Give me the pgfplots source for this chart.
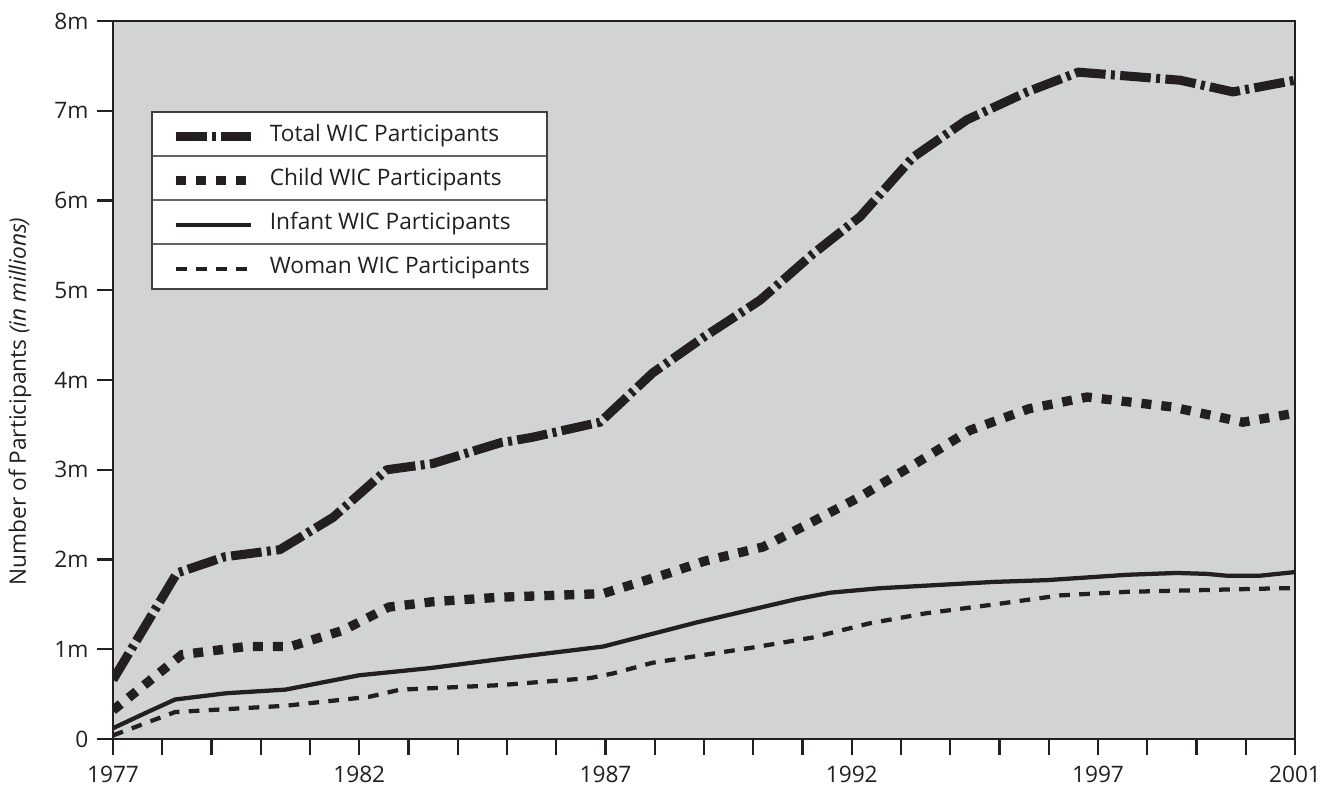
\documentclass[border=0pt]{standalone}
\usepackage{pgfplots}
\pgfplotsset{compat=1.18}
\usepackage{pgfplotstable}
\usepackage{fontspec}
\setmainfont{Open Sans}
\definecolor{bg}{RGB}{209,211,212}
\definecolor{ink}{RGB}{35,31,32}

\pgfplotstableread{
x y
1977 0.66
1978.3 1.85
1979.27 2.03
1980.39 2.11
1981.47 2.47
1982.56 3.00
1983.5 3.07
1984.86 3.30
1985.5 3.36
1986.89 3.53
1987.96 4.08
1989.0 4.48
1990.14 4.89
1991.2 5.40
1992.17 5.82
1993.24 6.48
1994.34 6.90
1995.56 7.21
1996.6 7.43
1998.67 7.34
1999.74 7.21
2001 7.34
}\total

\pgfplotstableread{
x y
1977 0.32
1978.4 0.94
1979.7 1.03
1980.6 1.03
1981.67 1.21
1982.6 1.47
1983.5 1.53
1984.86 1.58
1986.95 1.62
1987.3 1.68
1988.3 1.85
1989.0 1.98
1990.2 2.14
1991.2 2.42
1992.17 2.70
1993.3 3.07
1994.4 3.44
1995.6 3.68
1996.78 3.81
1998.5 3.70
1999.94 3.53
2001 3.63
}\child

\pgfplotstableread{
x y
1977 0.12
1977.7 0.30
1978.26 0.44
1979.3 0.51
1980.5 0.55
1982.0 0.71
1983.44 0.79
1984.86 0.89
1986.95 1.03
1988.86 1.30
1990.89 1.56
1991.56 1.63
1992.57 1.68
1994.87 1.75
1995.96 1.77
1997.6 1.83
1998.6 1.85
1999.2 1.84
1999.6 1.82
2000.3 1.82
2001 1.86
}\infant

\pgfplotstableread{
x y
1977 0.04
1978.26 0.30
1980.5 0.37
1982.2 0.47
1982.83 0.55
1984.86 0.60
1986.7 0.68
1987.15 0.73
1987.96 0.85
1990.0 1.02
1991.2 1.13
1992.37 1.29
1993.5 1.40
1994.9 1.50
1996.23 1.60
1997.6 1.64
2000.76 1.68
2001 1.68
}\woman

\begin{document}
\begin{tikzpicture}
\begin{axis}[
  at={(0pt,0pt)}, anchor=south west,
  scale only axis, width=886.5pt, height=538.5pt,
  xmin=1977, xmax=2001, ymin=0, ymax=8,
  axis background/.style={fill=bg},
  axis line style={ink, line width=1.8pt},
  xtick={1977,1982,1987,1992,1997,2001},
  xticklabels={1977,1982,1987,1992,1997,2001},
  minor xtick={1978,1979,1980,1981,1983,1984,1985,1986,1988,1989,1990,1991,1993,1994,1995,1996,1998,1999,2000},
  ytick={0,1,2,3,4,5,6,7,8},
  yticklabels={0,1m,2m,3m,4m,5m,6m,7m,8m},
  xtick pos=bottom, ytick pos=left,
  tick align=outside,
  major tick length=12pt, minor tick length=12pt,
  every tick/.style={ink, line width=1.8pt},
  minor tick style={ink, line width=1.8pt},
  xticklabel style={font=\fontsize{17}{17}\selectfont, text=ink, yshift=-4.5pt},
  yticklabel style={font=\fontsize{17}{17}\selectfont, text=ink, xshift=-3pt},
  every axis y label/.style={at={(axis description cs:-0.0787,0.47)}, anchor=center, rotate=90},
  ylabel={Number of Participants \textit{(in millions)}},
  ylabel style={font=\fontsize{17}{17}\selectfont, text=ink},
  legend cell align=left,
  legend image code/.code={\draw[#1] (0pt,0pt) -- (56pt,0pt);},
  legend style={at={(axis description cs:0.049,0.747)}, anchor=west,
    draw=none, fill=none, inner sep=0pt, row sep=17pt,
    font=\fontsize{17}{17}\selectfont, text=ink,
    nodes={inner sep=0pt, text height=12pt, text depth=4pt},
    /tikz/every odd column/.append style={column sep=11pt}},
]
\fill[white] (rel axis cs:0.033,0.8733) rectangle (rel axis cs:0.3672,0.6267);
\draw[black!60, line width=0.8pt] (rel axis cs:0.033,0.812) -- (rel axis cs:0.3672,0.812);
\draw[black!60, line width=0.8pt] (rel axis cs:0.033,0.7507) -- (rel axis cs:0.3672,0.7507);
\draw[black!60, line width=0.8pt] (rel axis cs:0.033,0.6894) -- (rel axis cs:0.3672,0.6894);
\draw[black!75, line width=0.9pt] (rel axis cs:0.033,0.8733) rectangle (rel axis cs:0.3672,0.6267);

\addplot[ink, line width=6.8pt, line cap=butt, line join=round, dash pattern=on 23pt off 4pt on 3pt off 4pt] table {\total};
\addlegendentry{Total WIC Participants}
\addplot[ink, line width=7pt, line cap=butt, line join=miter, dash pattern=on 7.5pt off 7.5pt] table {\child};
\addlegendentry{Child WIC Participants}
\addplot[ink, line width=3.2pt, line join=round] table {\infant};
\addlegendentry{Infant WIC Participants}
\addplot[ink, line width=3.2pt, line cap=butt, dash pattern=on 8pt off 7pt] table {\woman};
\addlegendentry{Woman WIC Participants}
\end{axis}
\pgfresetboundingbox
\path (-84.75pt,-36.75pt) rectangle (905.25pt,554.25pt);
\end{tikzpicture}
\end{document}
